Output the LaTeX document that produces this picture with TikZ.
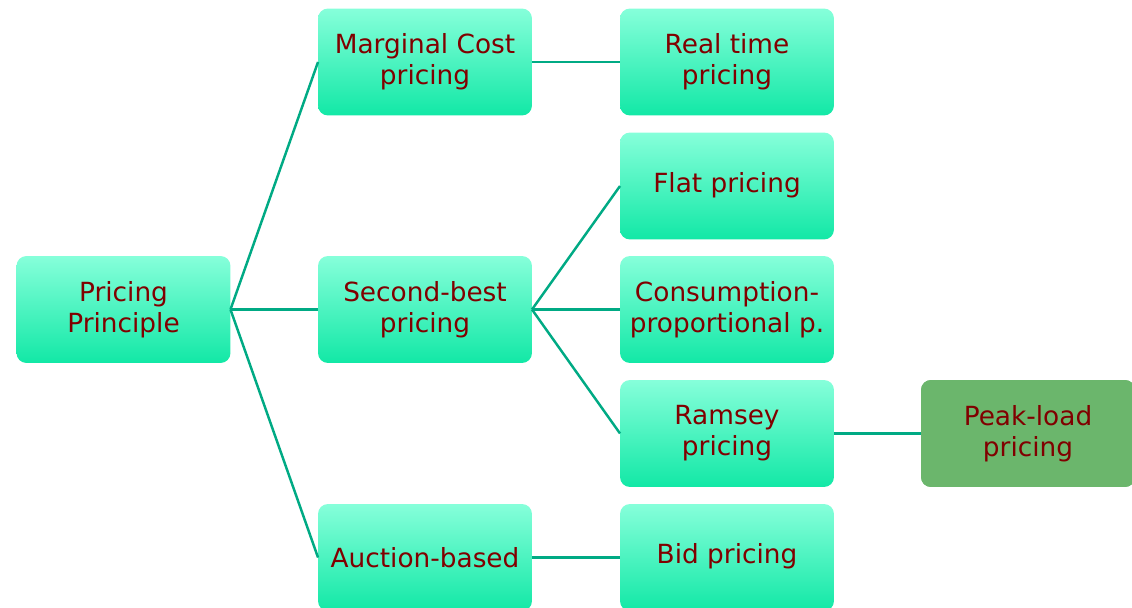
\documentclass[tikz,border=0pt]{standalone}
\usepackage{fontspec}
\setmainfont{DejaVu Sans}
\usepackage{tikz}
\definecolor{boxtop}{HTML}{86FFDA}
\definecolor{boxbot}{HTML}{12E8A6}
\definecolor{peak}{HTML}{6BB66C}
\definecolor{txt}{HTML}{800000}
\definecolor{link}{HTML}{00AA84}
\tikzset{
  box/.style={rounded corners=.2cm, top color=boxtop, bottom color=boxbot, minimum width=4.28cm, minimum height=2.14cm, align=center, text=txt, font=\fontsize{15}{17.5}\selectfont, inner sep=2pt, outer sep=0pt},
  peakbox/.style={box, fill=peak, top color=peak, bottom color=peak},
  link/.style={draw=link, line width=1.4pt}
}
\begin{document}
\begin{tikzpicture}[x=0.02cm, y=-0.02cm]
\useasboundingbox (0,0) rectangle (1132,608);
\node (principle) [box] at (123.5,309.5) {Pricing\\Principle};
\node (marginal) [box] at (425,62) {Marginal Cost\\pricing};
\node (second) [box] at (425,309.5) {Second-best\\pricing};
\node (auction) [box] at (425,557.5) {Auction-based};
\node (realtime) [box] at (727,62) {Real time\\pricing};
\node (flat) [box] at (727,186) {\strut Flat pricing};
\node (consumption) [box] at (727,309.5) {Consumption-\\proportional p.};
\node (ramsey) [box] at (727,433.5) {Ramsey\\pricing};
\node (bid) [box] at (727,557.5) {\strut Bid pricing};
\node (peakload) [peakbox] at (1028,433.5) {Peak-load\\pricing};
\draw [link] (principle.east) -- (marginal.west);
\draw [link] (principle.east) -- (second.west);
\draw [link] (principle.east) -- (auction.west);
\draw [link] (marginal.east) -- (realtime.west);
\draw [link] (second.east) -- (flat.west);
\draw [link] (second.east) -- (consumption.west);
\draw [link] (second.east) -- (ramsey.west);
\draw [link] (auction.east) -- (bid.west);
\draw [link] (ramsey.east) -- (peakload.west);
\end{tikzpicture}
\end{document}
